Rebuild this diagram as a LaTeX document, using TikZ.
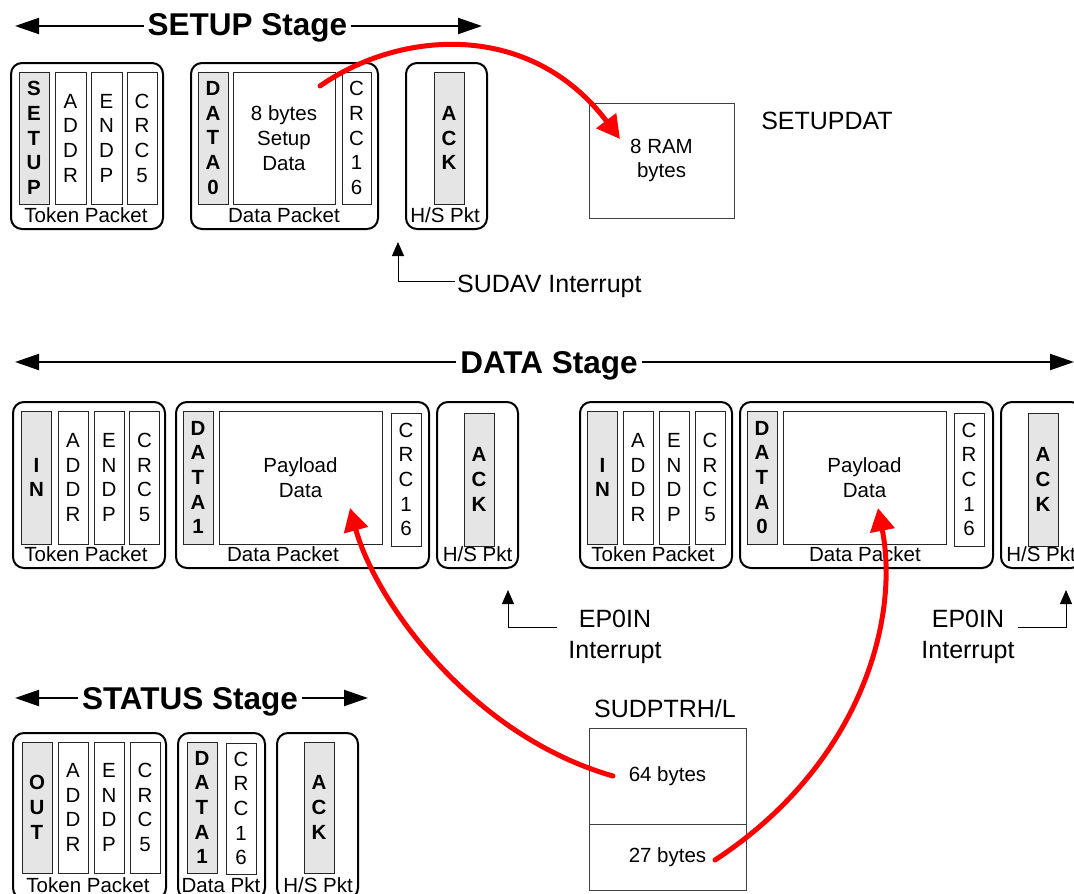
\documentclass[tikz,border=0pt]{standalone}
\usepackage{fontspec}
\setmainfont{Liberation Sans}
\usetikzlibrary{arrows.meta}
\newcommand\fsml{\fontsize{20.5}{24.7}\selectfont}
\newcommand\fmid{\fontsize{25}{31}\selectfont}
\newcommand\fttl{\fontsize{31.5}{36}\selectfont\bfseries}
\tikzset{
  pkt/.style={draw=black, line width=2pt, rounded corners=11pt, inner sep=0pt},
  fld/.style={draw=black!85, line width=0.9pt, fill=white, inner sep=0pt, align=center, font=\fsml},
  tfld/.style={fld, fill=gray!20, font=\fsml\bfseries},
  lbl/.style={inner sep=0pt, anchor=base, font=\fsml},
  cell/.style={draw=black!75, line width=0.9pt, inner sep=0pt, align=center, font=\fsml},
  txt/.style={inner sep=0pt, align=center, font=\fmid},
  ttl/.style={inner xsep=4pt, inner ysep=0pt, anchor=base, font=\fttl},
  stagearr/.style={line width=2pt, -{Triangle[length=24pt,width=16pt]}},
  intarr/.style={line width=1pt, -{Triangle[length=14pt,width=12pt]}},
  redarr/.style={draw=red, line width=5pt, line cap=round, -{Triangle[length=23pt,width=24pt]}},
}
\begin{document}
\begin{tikzpicture}[x=1pt,y=-1pt]
\useasboundingbox (0,0) rectangle (1074,894);
\clip (0,0) rectangle (1074,894);

% ---------------- SETUP stage ----------------
\node[ttl] (t1) at (247.5,35.5) {SETUP Stage};
\coordinate (t1L) at (15,26);
\coordinate (t1R) at (482,26);
\draw[stagearr] (t1.west |- t1L) -- (t1L);
\draw[stagearr] (t1.east |- t1R) -- (t1R);

\node[pkt, minimum width=152, minimum height=166] (s1) at (87,146) {};
\node[tfld, minimum width=30, minimum height=132] (s1a) at (34,138) {S\\E\\T\\U\\P};
\node[fld, minimum width=31, minimum height=132] (s1b) at (70.5,138) {A\\D\\D\\R};
\node[fld, minimum width=31, minimum height=132] (s1c) at (106.5,138) {E\\N\\D\\P};
\node[fld, minimum width=30, minimum height=132] (s1d) at (142,138) {C\\R\\C\\5};
\node[lbl] (s1l) at (86,222.5) {Token Packet};

\node[pkt, minimum width=187, minimum height=166] (s2) at (284.5,146) {};
\node[tfld, minimum width=30, minimum height=132] (s2a) at (213,138) {D\\A\\T\\A\\0};
\node[fld, minimum width=102, minimum height=132] (s2b) at (284,138) {8 bytes\\Setup\\Data};
\node[fld, minimum width=29, minimum height=132] (s2c) at (356.5,138) {C\\R\\C\\1\\6};
\node[lbl] (s2l) at (284,222.5) {Data Packet};

\node[pkt, minimum width=81, minimum height=166] (s3) at (446.5,146) {};
\node[tfld, minimum width=30, minimum height=132] (s3a) at (449,138) {A\\C\\K};
\node[lbl] (s3l) at (445,222.5) {H/S Pkt};

\node[cell, minimum width=145, minimum height=115] (ram) at (661.5,160.5) {8 RAM\\bytes};
\node[txt] (setupdat) at (827,121) {SETUPDAT};

\node[txt, anchor=base west] (sudav) at (457,292) {SUDAV Interrupt};
\coordinate (sua) at (455,281);
\coordinate (sut) at (398,242);
\draw[intarr] (sua) -| (sut);

% ---------------- DATA stage ----------------
\node[ttl] (t2) at (549,373) {DATA Stage};
\coordinate (t2L) at (15,362);
\coordinate (t2R) at (1074,362);
\draw[stagearr] (t2.west |- t2L) -- (t2L);
\draw[stagearr] (t2.east |- t2R) -- (t2R);

% left transaction
\node[pkt, minimum width=152, minimum height=166] (d1) at (89,485) {};
\node[tfld, minimum width=30, minimum height=133] (d1a) at (36.5,477.5) {I\\N};
\node[fld, minimum width=30, minimum height=133] (d1b) at (73,477.5) {A\\D\\D\\R};
\node[fld, minimum width=30, minimum height=133] (d1c) at (109,477.5) {E\\N\\D\\P};
\node[fld, minimum width=30, minimum height=133] (d1d) at (144.5,477.5) {C\\R\\C\\5};
\node[lbl] (d1l) at (86,561.5) {Token Packet};

\node[pkt, minimum width=253, minimum height=166] (d2) at (302.5,485) {};
\node[tfld, minimum width=30, minimum height=133] (d2a) at (198,477.5) {D\\A\\T\\A\\1};
\node[fld, minimum width=163, minimum height=133] (d2b) at (300.5,477.5) {Payload\\Data};
\node[fld, minimum width=30, minimum height=133] (d2c) at (406,479.5) {C\\R\\C\\1\\6};
\node[lbl] (d2l) at (283,561.5) {Data Packet};

\node[pkt, minimum width=81, minimum height=166] (d3) at (477.5,485) {};
\node[tfld, minimum width=30, minimum height=133] (d3a) at (479,479.5) {A\\C\\K};
\node[lbl] (d3l) at (477.5,561.5) {H/S Pkt};

\node[txt] (ep1) at (615,637) {EP0IN\\Interrupt};
\coordinate (e1a) at (557,627);
\coordinate (e1t) at (508,590);
\draw[intarr] (e1a) -| (e1t);

% right transaction
\node[pkt, minimum width=152, minimum height=166] (d4) at (656,485) {};
\node[tfld, minimum width=30, minimum height=133] (d4a) at (602.5,477.5) {I\\N};
\node[fld, minimum width=30, minimum height=133] (d4b) at (638,477.5) {A\\D\\D\\R};
\node[fld, minimum width=30, minimum height=133] (d4c) at (674,477.5) {E\\N\\D\\P};
\node[fld, minimum width=30, minimum height=133] (d4d) at (710,477.5) {C\\R\\C\\5};
\node[lbl] (d4l) at (653,561.5) {Token Packet};

\node[pkt, minimum width=253, minimum height=166] (d5) at (866.5,485) {};
\node[tfld, minimum width=30, minimum height=133] (d5a) at (762,477.5) {D\\A\\T\\A\\0};
\node[fld, minimum width=163, minimum height=133] (d5b) at (864.5,477.5) {Payload\\Data};
\node[fld, minimum width=30, minimum height=133] (d5c) at (969,479.5) {C\\R\\C\\1\\6};
\node[lbl] (d5l) at (865,561.5) {Data Packet};

\node[pkt, minimum width=81, minimum height=166] (d6) at (1041.5,485) {};
\node[tfld, minimum width=30, minimum height=133] (d6a) at (1043,479.5) {A\\C\\K};
\node[lbl] (d6l) at (1041,561.5) {H/S Pkt};

\node[txt] (ep2) at (968,637) {EP0IN\\Interrupt};
\coordinate (e2a) at (1018,627);
\coordinate (e2t) at (1066,590);
\draw[intarr] (e2a) -| (e2t);

% SUDPTRH/L buffer
\node[txt, anchor=base] (sudlbl) at (665,717) {SUDPTRH/L};
\node[cell, minimum width=157, minimum height=96] (c64) at (667.5,776) {64 bytes};
\node[cell, minimum width=157, minimum height=66] (c27) at (667.5,857) {27 bytes};

% ---------------- STATUS stage ----------------
\node[ttl] (t3) at (190,709) {STATUS Stage};
\coordinate (t3L) at (15,698);
\coordinate (t3R) at (368,698);
\draw[stagearr] (t3.west |- t3L) -- (t3L);
\draw[stagearr] (t3.east |- t3R) -- (t3R);

\node[pkt, minimum width=153, minimum height=166] (u1) at (89.5,816) {};
\node[tfld, minimum width=30, minimum height=131] (u1a) at (37,807.5) {O\\U\\T};
\node[fld, minimum width=30, minimum height=131] (u1b) at (73,807.5) {A\\D\\D\\R};
\node[fld, minimum width=30, minimum height=131] (u1c) at (109,807.5) {E\\N\\D\\P};
\node[fld, minimum width=30, minimum height=131] (u1d) at (145,807.5) {C\\R\\C\\5};
\node[lbl] (u1l) at (88,892) {Token Packet};

\node[pkt, minimum width=87, minimum height=166] (u2) at (221.5,816) {};
\node[tfld, minimum width=30, minimum height=131] (u2a) at (202,807.5) {D\\A\\T\\A\\1};
\node[fld, minimum width=30, minimum height=131] (u2b) at (241,808.5) {C\\R\\C\\1\\6};
\node[lbl] (u2l) at (221,892) {Data Pkt};

\node[pkt, minimum width=81, minimum height=166] (u3) at (317.5,816) {};
\node[tfld, minimum width=30, minimum height=131] (u3a) at (319,807.5) {A\\C\\K};
\node[lbl] (u3l) at (318,892) {H/S Pkt};

% ---------------- red data-flow arrows ----------------
\coordinate (r1s) at (320,86);
\coordinate (r1e) at (620,139);
\draw[redarr] (r1s) .. controls (400,30) and (530,20) .. (r1e);

\coordinate (r2s) at (613,776);
\coordinate (r2e) at (350,508);
\draw[redarr] (r2s) .. controls (470,735) and (375,600) .. (r2e);

\coordinate (r3s) at (715,860);
\coordinate (r3e) at (878,508);
\draw[redarr] (r3s) .. controls (860,765) and (900,620) .. (r3e);
\end{tikzpicture}
\end{document}
